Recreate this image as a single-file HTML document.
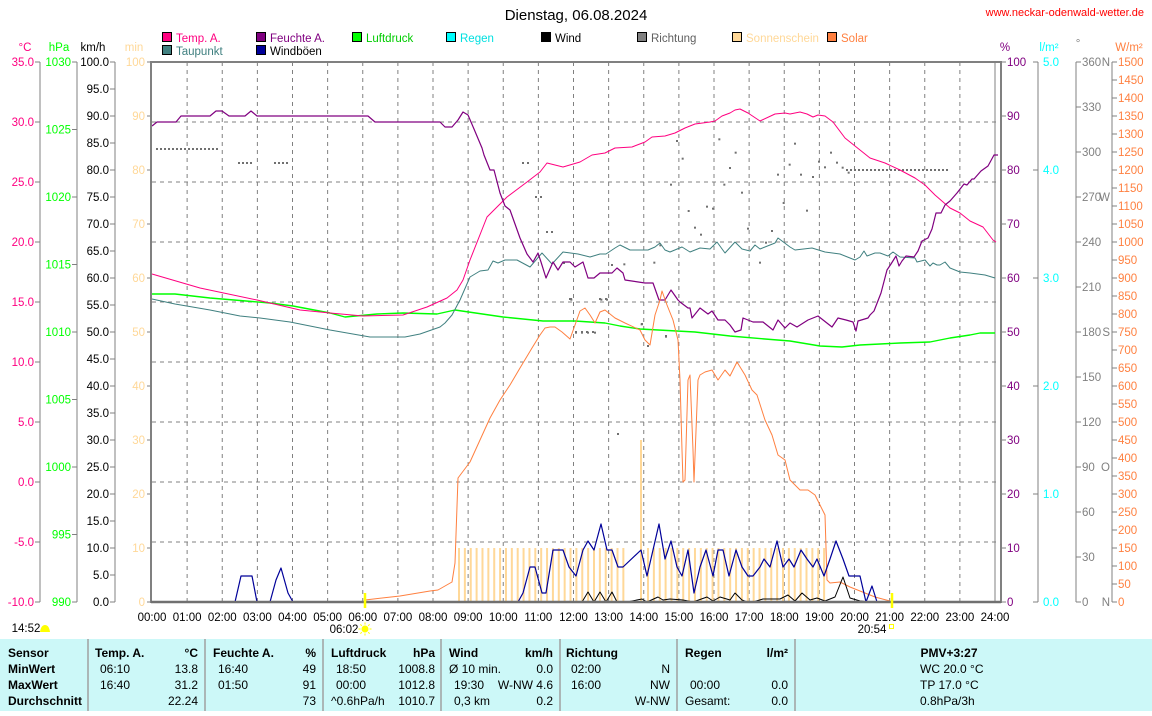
<!DOCTYPE html>
<html><head><meta charset="utf-8">
<style>
body{margin:0;background:#fff;width:1152px;height:711px;overflow:hidden;font-family:"Liberation Sans",sans-serif;}
svg text{font-family:"Liberation Sans",sans-serif;}
</style></head>
<body>
<svg id="s" width="1152" height="711" xmlns="http://www.w3.org/2000/svg"></svg>
<script>
const S=document.getElementById('s');
let h='';
function T(x,y,t,c,a,sz,w){h+=`<text x="${x}" y="${y}" fill="${c||'#000'}" font-size="${sz||11.5}" text-anchor="${a||'start'}"${w?' font-weight="bold"':''}>${t}</text>`;}
function L(x1,y1,x2,y2,c,w,d){h+=`<line x1="${x1}" y1="${y1}" x2="${x2}" y2="${y2}" stroke="${c}" stroke-width="${w||1}"${d?` stroke-dasharray="${d}"`:''}/>`;}
function P(pts,c,w){h+=`<polyline fill="none" stroke="${c}" stroke-width="${w||1}" stroke-linejoin="round" points="${pts.map(p=>p.join(',')).join(' ')}"/>`;}
const X0=152,HW=35.125,Y0=62,Y1=602;
T(576,20,'Dienstag, 06.08.2024','#000','middle',15);
T(1144,16,'www.neckar-odenwald-wetter.de','#ff0000','end',11);
const lg=[[162,38,'Temp. A.','#ff0080','#ff0080'],[256,38,'Feuchte A.','#800080','#800080'],[352,38,'Luftdruck','#00ff00','#00cc00'],[446,38,'Regen','#00ffff','#00e0e0'],[541,38,'Wind','#000','#000'],[637,38,'Richtung','#808080','#606060'],[732,38,'Sonnenschein','#ffd898','#ffd898'],[827,38,'Solar','#ff8040','#ff8040'],[162,51,'Taupunkt','#408080','#408080'],[256,51,'Windböen','#000099','#000']];
lg.forEach(l=>{h+=`<rect x="${l[0]}.5" y="${l[1]-5.5}" width="9" height="9" fill="${l[3]}" stroke="#000"/>`;T(l[0]+14,l[1]+4,l[2],l[4],'start',11.5);});
T(25,51,'°C','#ff0080','middle');T(59,51,'hPa','#00ff00','middle');T(93,51,'km/h','#000','middle');T(134,51,'min','#ffd898','middle');
T(1005,51,'%','#800080','middle');T(1049,51,'l/m²','#00ffff','middle');T(1078,47,'°','#808080','middle');T(1129,51,'W/m²','#ff8040','middle');
L(40,Y0,40,Y1,'#808080');L(77,Y0,77,Y1,'#808080');L(115,Y0,115,Y1,'#808080');
for(let i=0;i<=9;i++){let y=Y0+i*60;L(35,y,40,y,'#808080');T(34,y+4,(35-5*i).toFixed(1),'#ff0080','end');}
for(let i=0;i<=8;i++){let y=Y0+i*67.5;L(72,y,77,y,'#808080');T(71,y+4,1030-5*i,'#00ff00','end');}
for(let i=0;i<=20;i++){let y=Y0+i*27;L(110,y,115,y,'#808080');T(109,y+4,(100-5*i).toFixed(1),'#000','end');}
for(let i=0;i<=10;i++){let y=Y0+i*54;L(147,y,151,y,'#808080');T(145,y+4,100-10*i,'#ffd898','end');}
L(1038,Y0,1038,Y1,'#808080');L(1076,Y0,1076,Y1,'#808080');L(1112,Y0,1112,Y1,'#808080');
for(let i=0;i<=10;i++){let y=Y0+i*54;L(1001,y,1006,y,'#808080');T(1007,y+4,100-10*i,'#800080');}
for(let i=0;i<=5;i++){let y=Y0+i*108;L(1033,y,1038,y,'#808080');T(1043,y+4,(5-i).toFixed(1),'#00ffff');}
const dirs={360:'N',270:'W',180:'S',90:'O',0:'N'};
for(let i=0;i<=12;i++){let y=Y0+i*45,v=360-30*i;L(1076,y,1081,y,'#808080');T(1082,y+4,v,'#808080');if(dirs[v]!==undefined)T(1110,y+4,dirs[v],'#808080','end');}
for(let i=0;i<=30;i++){let y=Y0+i*18;L(1112,y,1117,y,'#808080');T(1118,y+4,1500-50*i,'#ff8040');}
for(let k=1;k<=8;k++){let y=Y0+60*k;L(152,y,1000,y,'#808080',1,'4,4');}
for(let i=1;i<=23;i++){let x=X0+i*HW;L(x,Y0,x,Y1,'#808080',1,'4,4');}
L(995,Y0,995,Y1,'#808080',1);
for(let x=458;x<=624;x+=5.87)h+=`<rect x="${x}" y="548" width="2" height="54" fill="#ffd898"/>`;
h+=`<rect x="640" y="440" width="2" height="162" fill="#ffd898"/>`;
for(let x=647;x<=826;x+=5.87)h+=`<rect x="${x}" y="548" width="2" height="54" fill="#ffd898"/>`;
function dots(x1,x2,y){for(let x=x1;x<=x2;x+=4)h+=`<rect x="${x}" y="${y}" width="2" height="2" fill="#707070"/>`;}
dots(156,218,148);dots(238,250,162);dots(274,288,162);dots(846,948,169);
const z6=[[318,240],[335,293],[300,371],[353,450],[372,500],[390,521],[408,437],[426,443],[445,235],[460,371],[477,321],[494,275],[513,395],[531,503],[567,605],[585,545],[603,510],[621,341],[638,426],[656,311],[672,248],[690,341],[708,449],[726,348],[744,302],[762,319],[780,275],[798,305],[815,320],[833,335],[250,605],[268,553],[160,610],[123,612],[91,716],[108,716],[1,716],[15,815],[33,815],[51,815],[72,815],[212,790],[285,827],[231,855]];
z6.forEach(p=>h+=`<rect x="${570+p[0]/3}" y="${60+p[1]/3}" width="2" height="2" fill="#707070"/>`);
[[522,162],[527,162],[535,196],[540,196],[546,231],[551,231],[563,262],[570,298],[575,331],[569,298],[599,298],[605,298],[581,331],[586,331],[592,331],[641,323],[665,335],[617,433]].forEach(p=>h+=`<rect x="${p[0]}" y="${p[1]}" width="2" height="2" fill="#707070"/>`);
P([[152,294],[175,294],[210,298],[270,303],[293,306],[330,313],[345,317],[377,314],[403,313],[437,314],[455,310],[503,317],[543,321],[575,321],[605,323],[620,326],[640,329],[695,332],[730,336],[765,339],[790,341],[820,346],[842,347],[860,345],[880,344],[900,343],[930,342],[950,338],[970,335],[980,333],[995,333]],'#00ff00',1.4);
P([[152,299],[175,304],[210,310],[240,316],[260,318],[290,322],[330,330],[370,337],[405,337],[420,334],[440,327],[445,323],[452,315],[460,300],[470,277],[480,271],[488,270],[493,261],[498,263],[505,260],[517,260],[530,267],[542,253],[552,264],[563,252],[578,254],[590,257],[600,254],[606,254],[615,248],[620,245],[630,250],[648,250],[655,247],[660,243],[665,250],[670,252],[682,247],[690,252],[700,248],[710,249],[717,242],[725,253],[735,242],[742,249],[750,251],[755,245],[760,249],[775,243],[778,238],[790,247],[795,250],[812,248],[825,252],[840,254],[850,258],[855,260],[860,257],[864,251],[867,256],[875,253],[880,253],[888,256],[893,252],[900,257],[915,258],[917,262],[925,260],[930,266],[933,263],[937,265],[940,265],[945,262],[950,268],[960,272],[970,273],[985,275],[995,278]],'#408080',1);
P([[152,274],[200,288],[257,300],[300,310],[330,313],[363,316],[403,315],[427,307],[447,298],[457,290],[463,280],[470,260],[487,217],[507,197],[527,182],[540,172],[547,163],[555,165],[563,167],[580,162],[592,155],[605,153],[615,148],[632,147],[645,142],[652,137],[665,136],[675,133],[685,128],[695,124],[710,122],[715,121],[722,116],[730,113],[735,110],[740,109],[748,113],[760,121],[775,114],[785,113],[790,114],[800,112],[807,114],[813,117],[818,115],[825,116],[833,122],[845,138],[855,146],[870,158],[885,163],[900,170],[915,178],[925,185],[935,195],[950,208],[960,213],[970,221],[983,227],[993,240],[996,242]],'#ff0080',1);
P([[152,126],[157,122],[176,122],[181,116],[210,116],[216,111],[222,111],[229,116],[245,116],[251,111],[257,116],[368,116],[375,122],[440,122],[445,127],[452,127],[458,120],[463,112],[468,115],[474,129],[482,148],[484,155],[490,170],[494,170],[500,193],[505,206],[510,210],[515,224],[520,238],[527,254],[533,262],[538,253],[541,262],[546,278],[553,262],[558,270],[563,262],[570,262],[575,267],[583,262],[588,278],[594,278],[600,273],[612,273],[617,268],[623,273],[625,280],[645,283],[653,283],[659,300],[665,300],[671,290],[678,300],[680,302],[688,308],[690,308],[692,318],[700,308],[708,314],[712,311],[718,320],[725,320],[730,325],[735,332],[741,330],[743,318],[753,322],[763,322],[773,330],[778,320],[785,328],[790,323],[797,327],[808,320],[818,316],[832,327],[838,318],[846,320],[853,322],[856,331],[858,321],[868,318],[870,315],[874,311],[881,293],[887,270],[891,264],[896,256],[899,266],[902,261],[906,256],[914,257],[918,251],[922,241],[928,238],[932,229],[936,213],[941,213],[945,205],[950,201],[957,193],[964,184],[967,185],[972,179],[974,179],[981,171],[988,166],[994,155],[998,155]],'#800080',1.2);
P([[365,600],[400,596],[430,591],[438,590],[452,582],[455,563],[458,478],[470,462],[480,440],[490,418],[500,400],[510,385],[520,368],[532,348],[540,335],[545,328],[550,327],[555,327],[562,332],[570,339],[575,325],[580,311],[585,308],[590,315],[595,323],[600,312],[605,310],[615,318],[625,323],[640,330],[645,340],[650,345],[655,315],[660,300],[662,291],[667,305],[673,320],[678,340],[680,380],[682,450],[683,482],[685,480],[688,380],[690,375],[693,450],[694,482],[698,380],[700,375],[705,372],[712,370],[718,380],[725,370],[730,376],[737,362],[745,375],[752,390],[757,395],[765,420],[772,435],[778,455],[785,460],[790,480],[800,490],[808,490],[815,495],[820,505],[825,515],[827,580],[830,583],[840,582],[850,587],[860,591],[875,597],[890,601]],'#ff8040',1);
P([[152,602],[235,602],[241,576],[252,576],[257,602],[270,602],[276,580],[281,568],[288,593],[293,602]],'#000099',1.2);
P([[518,602],[523,593],[530,567],[535,567],[542,593],[546,593],[553,550],[563,550],[569,567],[576,576],[583,550],[588,541],[594,550],[601,524],[607,550],[612,550],[618,567],[623,567],[641,550],[647,576],[653,550],[659,524],[665,559],[671,541],[677,567],[682,576],[688,550],[694,593],[700,567],[706,550],[713,576],[718,550],[723,550],[729,576],[736,550],[742,567],[748,576],[753,576],[760,567],[764,559],[770,567],[777,541],[783,567],[789,559],[794,567],[801,550],[807,559],[813,567],[817,559],[824,576],[830,559],[836,541],[843,559],[849,576],[853,576],[860,576],[866,602],[872,586],[877,602]],'#000099',1.2);
P([[575,602],[582,602],[588,592],[594,602],[600,592],[606,602],[612,592],[617,602],[627,602],[642,599],[647,602],[658,597],[663,600],[670,599],[683,600],[693,602],[707,597],[713,601],[720,597],[730,600],[735,593],[742,600],[747,602],[753,602],[763,599],[780,599],[788,595],[795,601],[802,593],[810,600],[817,598],[825,601],[835,597],[843,577],[850,598],[860,601],[870,602]],'#000',1);
L(151,62,1001,62,'#808080',2);L(151,61,151,603,'#808080',2);L(1001,61,1001,603,'#808080',2);L(151,602,1001,602,'#707070',2.5);
L(365,593,365,608,'#ffff00',2.5);L(892,593,892,608,'#ffff00',2.5);
for(let i=0;i<=24;i++){let x=X0+i*HW;T(x,621,(i<10?'0':'')+i+':00','#000','middle');}
T(344,633,'06:02','#000','middle');
h+=`<circle cx="365" cy="629" r="3.5" fill="#ffff00"/>`;
for(let a=0;a<8;a++){let r=a*Math.PI/4;L(365+4.5*Math.cos(r),629+4.5*Math.sin(r),365+6.5*Math.cos(r),629+6.5*Math.sin(r),'#ffff00',1);}
T(872,633,'20:54','#000','middle');
h+=`<rect x="889.5" y="624.5" width="4" height="4" fill="none" stroke="#ffff00"/>`;
T(26,632,'14:52','#000','middle');
h+=`<path d="M40 632 Q41 625 45 625 Q49 625 50 632 Z" fill="#ffff00"/>`;
h+=`<rect x="0" y="639" width="1152" height="72" fill="#ccf8f8"/>`;
[88,205,323,441,560,677,795].forEach(x=>L(x,639,x,711,'#a0a0a0',1.5));
const R=[653,669,685,701];
T(8,R[0]+4,'Sensor','#000','start',12,1);T(8,R[1]+4,'MinWert','#000','start',12,1);T(8,R[2]+4,'MaxWert','#000','start',12,1);T(8,R[3]+4,'Durchschnitt','#000','start',12,1);
function col(xl,xr,head,unit,rows){T(xl,R[0]+4,head,'#000','start',12,1);T(xr,R[0]+4,unit,'#000','end',12,1);rows.forEach((r,i)=>{if(r[0])T(xl+5,R[i+1]+4,r[0],'#000','start',12);if(r[1])T(xr,R[i+1]+4,r[1],'#000','end',12);});}
col(95,198,'Temp. A.','°C',[['06:10','13.8'],['16:40','31.2'],['','22.24']]);
col(213,316,'Feuchte A.','%',[['16:40','49'],['01:50','91'],['','73']]);
col(331,435,'Luftdruck','hPa',[['18:50','1008.8'],['00:00','1012.8'],['','1010.7']]);
T(331,R[3]+4,'^0.6hPa/h','#000','start',12);
col(449,553,'Wind','km/h',[['','0.0'],['19:30','W-NW 4.6'],['','0.2']]);
T(449,R[1]+4,'Ø 10 min.','#000','start',12);T(454,R[3]+4,'0,3 km','#000','start',12);
col(566,670,'Richtung','',[['02:00','N'],['16:00','NW'],['','W-NW']]);
col(685,788,'Regen','l/m²',[['',''],['00:00','0.0'],['','0.0']]);
T(685,R[3]+4,'Gesamt:','#000','start',12);
T(949,R[0]+4,'PMV+3:27','#000','middle',12,1);
T(920,R[1]+4,'WC 20.0 °C','#000','start',12);T(920,R[2]+4,'TP 17.0 °C','#000','start',12);T(920,R[3]+4,'0.8hPa/3h','#000','start',12);
S.innerHTML=h;
</script>
</body></html>
